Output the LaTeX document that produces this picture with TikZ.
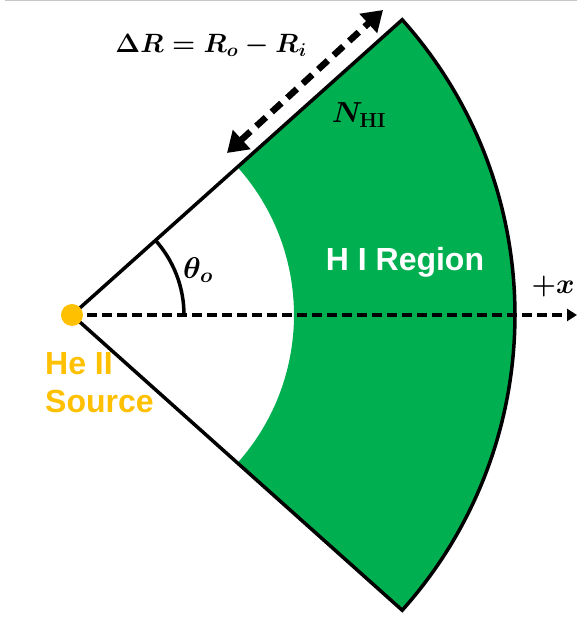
\RequirePackage{fix-cm}
\documentclass[tikz,border=0pt]{standalone}
\usepackage{fontspec}
\usepackage{amsmath}
\setsansfont{Liberation Sans}
\usetikzlibrary{arrows.meta,calc}
\definecolor{hgreen}{HTML}{00B050}
\definecolor{horange}{HTML}{FFC000}
\begin{document}
\begin{tikzpicture}[x=1pt,y=1pt,
  edge/.style={line width=3.5pt,line join=miter},
  axisline/.style={line width=3.5pt,dash pattern=on 10pt off 5pt,-{Triangle[length=10pt,width=12pt]}},
  dimarrow/.style={line width=6.5pt,dash pattern=on 13pt off 8pt,{Triangle[length=20pt,width=25pt]}-{Triangle[length=20pt,width=25pt]}},
  mathlbl/.style={inner sep=0pt,font=\fontsize{29}{32}\selectfont\boldmath},
  sanslbl/.style={inner sep=0pt,font=\fontsize{32}{38}\selectfont\sffamily\bfseries}]
\useasboundingbox (0,0) rectangle (577,629);
\fill[white] (0,0) rectangle (577,629);
\draw[gray!45,line width=1pt] (5,628) -- (577,628);
\def\th{41.8}
\coordinate (S) at (72,314);
\fill[hgreen] ($(S)+(\th:443)$) arc[start angle=\th,end angle=-\th,radius=443]
  -- ($(S)+(-\th:222)$) arc[start angle=-\th,end angle=\th,radius=222] -- cycle;
\draw[edge] (S) -- ($(S)+(\th:443)$) arc[start angle=\th,end angle=-\th,radius=443] -- cycle;
\coordinate (xend) at (577,314);
\draw[axisline] (S) -- (xend);
\draw[line width=3.5pt] ($(S)+(0:112)$) arc[start angle=0,end angle=\th,radius=112];
\fill[horange] (S) circle (11);
\coordinate (a1) at (227,476);
\coordinate (a2) at (383,619);
\draw[dimarrow] (a1) -- (a2);
\node[mathlbl,font=\fontsize{26.5}{30}\selectfont\boldmath] (dr) at (211,584) {$\Delta R = R_o - R_i$};
\node[mathlbl] (nhi) at (359,514) {$N_{\mathbf{HI}}$};
\node[mathlbl,font=\fontsize{30}{33}\selectfont\boldmath] (tho) at (198,359) {$\theta_o$};
\node[mathlbl,font=\fontsize{28}{32}\selectfont\boldmath] (px) at (553,342) {$+x$};
\node[sanslbl,text=white] (hi) at (405,367) {H I Region};
\node[sanslbl,text=horange,align=left,anchor=north west] (src) at (45,277) {He II\\Source};
\end{tikzpicture}
\end{document}
